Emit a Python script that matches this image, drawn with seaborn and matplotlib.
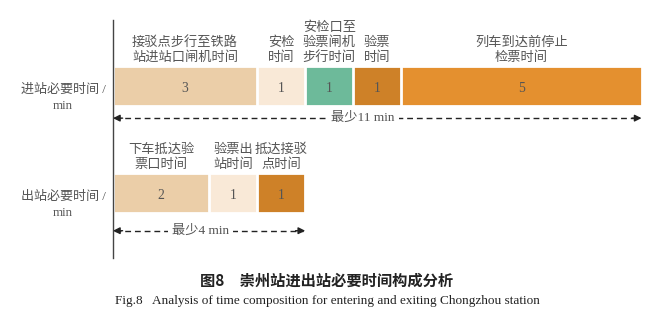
import matplotlib
matplotlib.use("Agg")
import numpy as np
import pandas as pd
import matplotlib.pyplot as plt
import seaborn as sns

# ---------------- data ----------------
rows = ["进站", "出站"]
row_labels = ["进站必要时间 /\nmin", "出站必要时间 /\nmin"]

in_stages = ["接驳点步行至铁路\n站进站口闸机时间", "安检\n时间",
             "安检口至\n验票闸机\n步行时间", "验票\n时间",
             "列车到达前停止\n检票时间"]
in_minutes = [3, 1, 1, 1, 5]

out_stages = ["下车抵达验\n票口时间", "验票出\n站时间", "抵达接驳\n点时间"]
out_minutes = [2, 1, 1]

total_labels = ["最少11 min", "最少4 min"]

title_cn = "图8　崇州站进出站必要时间构成分析"
title_en = "Fig.8   Analysis of time composition for entering and exiting Chongzhou station"

# ---------------- styles ----------------
in_colors = ["#EBCEA8", "#F9E9D7", "#6DBA9A", "#CE8128", "#E4902F"]
out_colors = ["#EBCEA8", "#F9E9D7", "#CE8128"]
TXT = "#555555"
MIX = ["Liberation Serif", "Noto Sans CJK SC"]

sns.set_theme(style="white")
plt.rcParams["font.family"] = ["Noto Sans CJK SC", "DejaVu Sans"]

frames = []
for r, stages, mins, cols in [(rows[0], in_stages, in_minutes, in_colors),
                              (rows[1], out_stages, out_minutes, out_colors)]:
    d = pd.DataFrame({"row": r, "stage": stages, "minutes": mins, "color": cols})
    d["end"] = d["minutes"].cumsum()
    d["mid"] = d["end"] - d["minutes"] / 2
    frames.append(d)
df = pd.concat(frames, ignore_index=True)

fig = plt.figure(figsize=(6.72, 3.29), dpi=100)
W, H = 672, 329
ax = fig.add_axes([113 / W, 1 - 258 / H, (662 - 113) / W, (258 - 20) / H])

BW = 0.374
# draw stacked bars: longest cumulative first so shorter ones lie on top
for r in rows:
    sub = df[df["row"] == r].iloc[::-1]
    for _, s in sub.iterrows():
        sns.barplot(x=[s["end"]], y=[r], order=rows, orient="h", color=s["color"],
                    saturation=1, width=BW, edgecolor="white", linewidth=2, ax=ax)

ax.set_xlim(0, (662 - 113) / 48.05)
ax.set_ylim(1.607, -0.617)
ax.set_xlabel("")
ax.set_ylabel("")
ax.set_xticks([])
ax.set_yticks([])
for sp in ["top", "right", "bottom"]:
    ax.spines[sp].set_visible(False)
ax.spines["left"].set_color("#444444")
ax.spines["left"].set_linewidth(1.0)

# labels in bars and above bars
for i, r in enumerate(rows):
    sub = df[df["row"] == r]
    for _, s in sub.iterrows():
        ax.text(s["mid"], i + 0.02, str(s["minutes"]), ha="center", va="center",
                fontsize=9.8, color=TXT, family=MIX)
        ax.text(s["mid"], i - BW / 2 - 0.018, s["stage"], ha="center", va="bottom",
                fontsize=9.5, color=TXT, linespacing=1.21)
    # row label
    ax.text(-1.04, i + 0.11, row_labels[i], ha="center", va="center", fontsize=9.4,
            color=TXT, family=MIX, linespacing=1.45, clip_on=False)

# total arrows
for i, r in enumerate(rows):
    total = df[df["row"] == r]["minutes"].sum()
    y = i + 0.30 if i == 0 else i + 0.352
    ax.plot([0.05, total - 0.05], [y, y], ls=(0, (4.2, 2.8)), color="#222222", lw=1.0)
    ax.annotate("", xy=(0, y), xytext=(0.2, y),
                arrowprops=dict(arrowstyle="-|>", color="#222222", lw=1.0,
                                mutation_scale=10, shrinkA=0, shrinkB=0))
    ax.annotate("", xy=(total, y), xytext=(total - 0.2, y),
                arrowprops=dict(arrowstyle="-|>", color="#222222", lw=1.0,
                                mutation_scale=10, shrinkA=0, shrinkB=0))
    cx = 5.2 if i == 0 else 1.83
    ax.text(cx, y, total_labels[i], ha="center", va="center", fontsize=9.5,
            color=TXT, family=MIX,
            bbox=dict(boxstyle="square,pad=0.3", fc="white", ec="none"))

# captions
fig.text(327 / W, 1 - 281 / H, title_cn, ha="center", va="center", fontsize=11,
         fontweight="bold", color="#222222", family=["Noto Sans CJK SC"])
fig.text(115 / W, 1 - 301 / H, title_en, ha="left", va="center", fontsize=9.5,
         color="#222222", family=["Liberation Serif"])

fig.savefig("out.png", dpi=100)
